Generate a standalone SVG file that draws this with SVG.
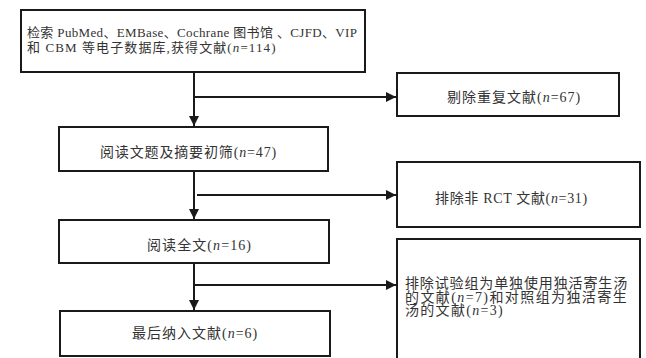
<svg xmlns="http://www.w3.org/2000/svg" width="646" height="358" viewBox="0 0 646 358">
<style>
.box{fill:#fff;stroke:#1a1a1a;stroke-width:2}
.ln{stroke:#1a1a1a;stroke-width:2;fill:none}
text{font-family:"Liberation Serif","Noto Sans CJK SC",serif;font-size:14px;fill:#333}
.s13{font-size:13px}
.it{font-style:italic}
</style>
<defs>
<marker id="ah" viewBox="0 0 10 10" refX="10" refY="5" markerWidth="10" markerHeight="10" markerUnits="userSpaceOnUse" orient="auto">
<path d="M0,0 L10,5 L0,10 z" fill="#1a1a1a"/>
</marker>
</defs>
<rect width="646" height="358" fill="#fff"/>
<g id="connectors">
<line class="ln" x1="194" y1="72" x2="194" y2="126" marker-end="url(#ah)"/>
<line class="ln" x1="194" y1="97" x2="396" y2="97" marker-end="url(#ah)"/>
<line class="ln" x1="194" y1="171" x2="194" y2="219" marker-end="url(#ah)"/>
<line class="ln" x1="197" y1="195" x2="396" y2="195" marker-end="url(#ah)"/>
<line class="ln" x1="194" y1="263" x2="194" y2="310" marker-end="url(#ah)"/>
<line class="ln" x1="195" y1="285" x2="396" y2="285" marker-end="url(#ah)"/>
</g>
<g id="n1">
<rect class="box" x="21" y="10" width="344" height="62"/>
<text class="s13" x="27" y="37" letter-spacing="0.35">检索 PubMed、EMBase、Cochrane 图书馆 、CJFD、VIP</text>
<text class="s13" x="27" y="51.5" letter-spacing="1.1">和 CBM 等电子数据库,获得文献(<tspan class="it">n</tspan>=114)</text>
</g>
<g id="n2">
<rect class="box" x="397" y="73" width="222" height="43"/>
<text x="447" y="102" letter-spacing="1">剔除重复文献(<tspan class="it">n</tspan>=67)</text>
</g>
<g id="n3">
<rect class="box" x="59" y="127" width="269" height="44"/>
<text x="100" y="157" letter-spacing="0.85">阅读文题及摘要初筛(<tspan class="it">n</tspan>=47)</text>
</g>
<g id="n4">
<rect class="box" x="397" y="162" width="243" height="65"/>
<text x="435" y="203" letter-spacing="0.66">排除非 RCT 文献(<tspan class="it">n</tspan>=31)</text>
</g>
<g id="n5">
<rect class="box" x="59" y="220" width="270" height="43"/>
<text x="147" y="250" letter-spacing="1.08">阅读全文(<tspan class="it">n</tspan>=16)</text>
</g>
<g id="n6">
<rect class="box" x="397" y="239" width="243" height="125"/>
<text x="405" y="288" letter-spacing="0.87">排除试验组为单独使用独活寄生汤</text>
<text x="405" y="301.5" letter-spacing="1.4">的文献(<tspan class="it">n</tspan>=7)和对照组为独活寄生</text>
<text x="405" y="315" letter-spacing="1.3">汤的文献(<tspan class="it">n</tspan>=3)</text>
</g>
<g id="n7">
<rect class="box" x="60" y="311" width="270" height="45"/>
<text x="132" y="338" letter-spacing="1">最后纳入文献(<tspan class="it">n</tspan>=6)</text>
</g>
</svg>
